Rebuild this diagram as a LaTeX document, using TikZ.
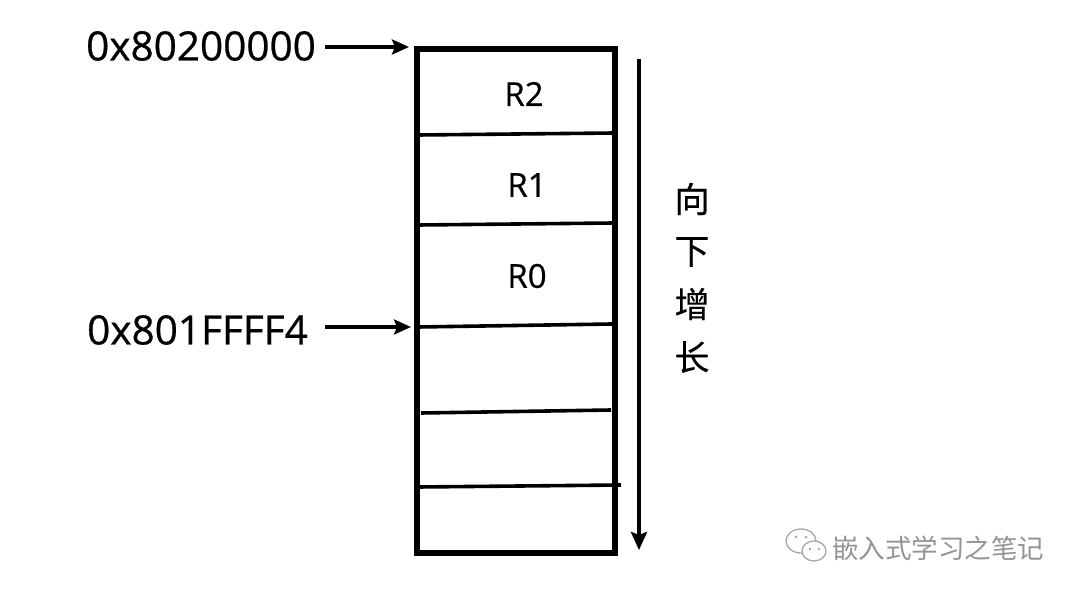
\documentclass[tikz,border=0pt]{standalone}
\usepackage{fontspec}
\setmainfont{Open Sans}
\newfontfamily\latinfont{Open Sans}[FakeBold=0.6]
\newfontfamily\cjk{Noto Sans CJK SC}[FakeBold=0.3]
\newfontfamily\cjkwm{Noto Sans CJK SC}
\usetikzlibrary{arrows.meta}
\begin{document}
\begin{tikzpicture}[x=1pt,y=-1pt,
  hexlabel/.style={font=\latinfont\fontsize{40.5}{41}\selectfont, inner sep=0pt, anchor=east},
  reglabel/.style={font=\latinfont\fontsize{33}{33}\selectfont, inner sep=0pt},
  divider/.style={line width=3.6pt},
  ptr/.style={line width=3.6pt, -{Stealth[length=17pt,width=15pt,inset=3pt]}},
  growarrow/.style={line width=4pt, -{Stealth[length=18pt,width=16pt,inset=3pt]}},
  cjklabel/.style={font=\cjk\fontsize{35}{35}\selectfont, inner sep=0pt},
  wm/.style={font=\cjkwm\fontsize{26.5}{26.5}\selectfont, text=black!42, inner sep=0pt, anchor=west}]
\useasboundingbox (0,0) rectangle (1080,596);
\fill[white] (0,0) rectangle (1080,596);
% memory box
\node[draw, line width=5.7pt, minimum width=198pt, minimum height=504pt, inner sep=0pt] (mem) at (516,301) {};
% dividers
\coordinate (d1l) at (418,135); \coordinate (d1r) at (614,133);
\coordinate (d2l) at (418,225); \coordinate (d2r) at (614,223);
\coordinate (d3l) at (418,327); \coordinate (d3r) at (612,324);
\coordinate (d4l) at (421,413); \coordinate (d4r) at (611,410);
\coordinate (d5l) at (418,487); \coordinate (d5r) at (621,485);
\draw[divider] (d1l) -- (d1r);
\draw[divider] (d2l) -- (d2r);
\draw[divider] (d3l) -- (d3r);
\draw[divider] (d4l) -- (d4r);
\draw[divider] (d5l) -- (d5r);
% register labels
\node[reglabel] (r2) at (524,94) {R2};
\node[reglabel] (r1) at (527,185) {R1};
\node[reglabel] (r0) at (527,276) {R0};
% address labels
\node[hexlabel] (a1) at (316,46) {0x80200000};
\node[hexlabel] (a2) at (308,330) {0x801FFFF4};
\coordinate (t1) at (409,47);
\coordinate (t2) at (411,327);
\draw[ptr] (325,47) -- (t1);
\draw[ptr] (325,327) -- (t2);
% growth arrow
\coordinate (gs) at (639,59);
\coordinate (ge) at (639,550);
\draw[growarrow] (gs) -- (ge);
\node[cjklabel] (c1) at (692,199) {向};
\node[cjklabel] (c2) at (692,252) {下};
\node[cjklabel] (c3) at (692,304) {增};
\node[cjklabel] (c4) at (692,357) {长};
% watermark
\begin{scope}[draw=black!35, line width=1.3pt]
\draw[fill=white] (801,541) ellipse (15 and 12);
\draw[fill=white] (814,551) ellipse (12 and 10);
\fill[black!35] (796,537) circle (1.5) (806,537) circle (1.5);
\fill[black!35] (810,549) circle (1.3) (819,549) circle (1.3);
\end{scope}
\node[wm] (wmtext) at (832,548) {嵌入式学习之笔记};
\end{tikzpicture}
\end{document}
